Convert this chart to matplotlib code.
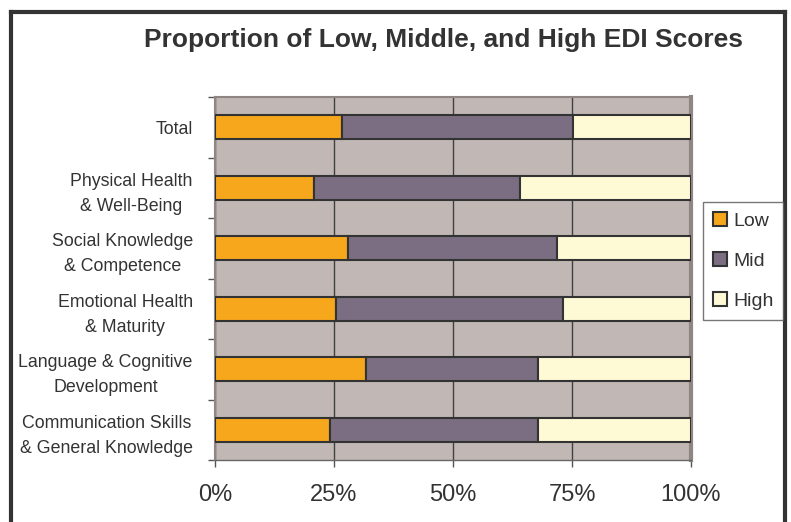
import numpy as np
import matplotlib.pyplot as plt

plt.rcParams['font.family'] = ['Liberation Sans', 'DejaVu Sans']

categories = ['Total', 'Physical Health\n& Well-Being', 'Social Knowledge\n& Competence',
              'Emotional Health\n& Maturity', 'Language & Cognitive\nDevelopment',
              'Communication Skills\n& General Knowledge']
low = np.array([26.7, 20.8, 28.0, 25.4, 31.7, 24.2])
mid = np.array([48.6, 43.3, 43.9, 47.7, 36.1, 43.6])
high = 100 - low - mid
series_names = ['Low', 'Mid', 'High']
colors = ['#F7A71C', '#7B6E82', '#FFFAD6']

fig = plt.figure(figsize=(7.91, 5.22), dpi=100)
ax = fig.add_axes([215 / 791, 62 / 522, 476 / 791, 363 / 522])
ax.set_facecolor('#C1B8B5')

y = np.arange(len(categories))
left = np.zeros(len(categories))
for vals, name, c in zip([low, mid, high], series_names, colors):
    ax.barh(y, vals, left=left, height=0.4, color=c, edgecolor='#333333',
            linewidth=1.5, label=name, zorder=3)
    left = left + vals

ax.set_xlim(0, 100)
ax.set_ylim(len(categories) - 0.5, -0.5)

ax.set_xticks([0, 25, 50, 75, 100])
ax.set_xticklabels(['0%', '25%', '50%', '75%', '100%'], fontsize=17, color='#333333')
ax.tick_params(axis='x', length=5, width=1, color='#555555', pad=12)
ax.grid(axis='x', color='#404040', linewidth=1, zorder=1)

ax.set_yticks(y)
ax.set_yticklabels(categories, fontsize=12.8, color='#333333',
                   multialignment='center', linespacing=1.6)
ax.set_yticks(np.arange(len(categories) + 1) - 0.5, minor=True)
ax.tick_params(axis='y', which='major', length=0, pad=16)
ax.tick_params(axis='y', which='minor', length=5, width=1, color='#555555')

for side in ['left', 'top']:
    ax.spines[side].set_color('#8F8583')
    ax.spines[side].set_linewidth(1.5)
ax.spines['right'].set_color('#8F8583')
ax.spines['right'].set_linewidth(3)
ax.spines['bottom'].set_color('#666666')
ax.spines['bottom'].set_linewidth(1)

leg = fig.legend(*ax.get_legend_handles_labels(), loc='upper left',
                 bbox_to_anchor=(703 / 791, 1 - 202 / 522), fontsize=14,
                 frameon=True, fancybox=False, edgecolor='#555555',
                 handlelength=0.75, handleheight=0.75, handletextpad=0.3,
                 labelspacing=1.15, borderpad=0.5, borderaxespad=0)
leg.get_frame().set_linewidth(1)
for t in leg.get_texts():
    t.set_color('#333333')

fig.text(443 / 791, 1 - 40 / 522, 'Proportion of Low, Middle, and High EDI Scores',
         ha='center', va='center', fontsize=19, fontweight='bold', color='#333333')

# dark frame around the figure
fig.add_artist(plt.Line2D([11 / 791, 11 / 791], [0, 1 - 12 / 522], color='#333333',
                          linewidth=3, transform=fig.transFigure))
fig.add_artist(plt.Line2D([11 / 791, 785 / 791], [1 - 12 / 522, 1 - 12 / 522],
                          color='#333333', linewidth=3, transform=fig.transFigure))
fig.add_artist(plt.Line2D([785 / 791, 785 / 791], [0, 1 - 12 / 522], color='#333333',
                          linewidth=3, transform=fig.transFigure))

fig.savefig('out.png', dpi=100)
